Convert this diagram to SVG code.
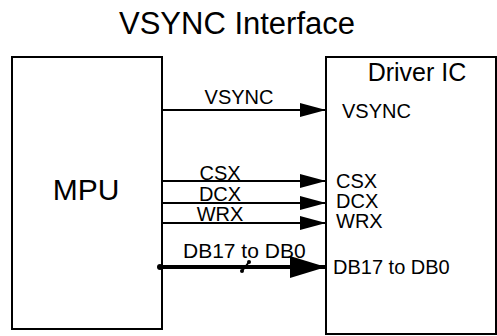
<svg xmlns="http://www.w3.org/2000/svg" width="497" height="336" viewBox="0 0 497 336">
<defs>
<style>
text{font-family:"Liberation Sans",Arial,sans-serif;fill:#000}
.box{fill:#fff;stroke:#000;stroke-width:2}
.sig{stroke:#000;stroke-width:2;fill:none}
.lbl{font-size:20px}
</style>
<marker id="ah" viewBox="0 0 26 14" refX="26" refY="7" markerWidth="26" markerHeight="14" markerUnits="userSpaceOnUse" orient="auto">
<path d="M0,0 L26,7 L0,14 Z" fill="#000"/>
</marker>
<marker id="ahb" viewBox="0 0 36 22" refX="36" refY="11" markerWidth="36" markerHeight="22" markerUnits="userSpaceOnUse" orient="auto">
<path d="M0,0 L36,11 L0,22 Z" fill="#000"/>
</marker>
</defs>
<rect width="497" height="336" fill="#fff"/>
<text x="237" y="34" font-size="31" text-anchor="middle">VSYNC Interface</text>
<g id="mpu">
<rect class="box" x="12" y="57" width="150" height="272"/>
<text x="86" y="200" font-size="30" text-anchor="middle">MPU</text>
</g>
<g id="driver-ic">
<rect class="box" x="326" y="57" width="170" height="277"/>
<text x="417" y="81" font-size="25" text-anchor="middle">Driver IC</text>
<text class="lbl" x="342" y="118">VSYNC</text>
<text class="lbl" x="336" y="188">CSX</text>
<text class="lbl" x="336" y="208">DCX</text>
<text class="lbl" x="336" y="228">WRX</text>
<text class="lbl" x="333" y="274" font-size="21">DB17 to DB0</text>
</g>
<g id="connectors">
<line class="sig" x1="162" y1="110" x2="326" y2="110" marker-end="url(#ah)"/>
<line class="sig" x1="162" y1="181" x2="326" y2="181" marker-end="url(#ah)"/>
<line class="sig" x1="162" y1="203" x2="326" y2="203" stroke-width="2.5" marker-end="url(#ah)"/>
<line class="sig" x1="162" y1="223" x2="326" y2="223" marker-end="url(#ah)"/>
<line x1="160" y1="267" x2="326" y2="267" stroke="#000" stroke-width="4" marker-end="url(#ahb)"/>
<circle cx="160" cy="267" r="3" fill="#000"/>
<line x1="242" y1="271" x2="249" y2="262" stroke="#000" stroke-width="2"/>
<circle cx="242" cy="271" r="2" fill="#000"/>
<circle cx="249" cy="262" r="2" fill="#000"/>
<text class="lbl" x="239" y="104" text-anchor="middle">VSYNC</text>
<text class="lbl" x="220" y="180" text-anchor="middle">CSX</text>
<text class="lbl" x="220" y="201" text-anchor="middle">DCX</text>
<text class="lbl" x="220" y="221" text-anchor="middle">WRX</text>
<text x="183" y="258" font-size="21">DB17 to DB0</text>
</g>
</svg>
